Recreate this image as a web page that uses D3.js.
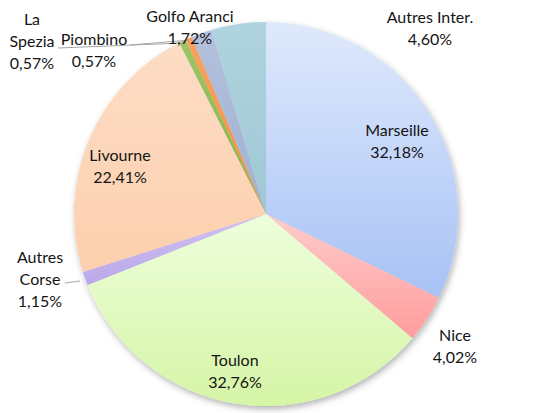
<!DOCTYPE html>
<html>
<head>
<meta charset="utf-8">
<script src="https://cdn.jsdelivr.net/npm/d3@7"></script>
<style>
  body { margin: 0; background: #fff; }
  svg text { font-family: Lato, "Open Sans", sans-serif; font-size: 16px; fill: #141414; }
</style>
</head>
<body>
<svg id="pie" width="546" height="413"></svg>
<script>
// data
const ports = ["Marseille", "Nice", "Toulon", "Autres Corse", "Livourne", "La Spezia", "Piombino", "Golfo Aranci", "Autres Inter."];
const shares = [32.18, 4.02, 32.76, 1.15, 22.41, 0.57, 0.57, 1.72, 4.60];
const labelLines = [
  ["Marseille", "32,18%"],
  ["Nice", "4,02%"],
  ["Toulon", "32,76%"],
  ["Autres", "Corse", "1,15%"],
  ["Livourne", "22,41%"],
  ["La", "Spezia", "0,57%"],
  ["Piombino", "0,57%"],
  ["Golfo Aranci", "1,72%"],
  ["Autres Inter.", "4,60%"]
];
const topColors = ["#dfe9fc", "#ffcccc", "#eefedc", "#d0c2f1", "#fddcc5", "#9cc665", "#f9a25e", "#b4c1dd", "#afd4df"];
const bottomColors = ["#a8c2f5", "#ff9c9c", "#d5f5a6", "#baa7ea", "#fcd0ae", "#85b24c", "#f68f3d", "#a1b0d3", "#9fc7d4"];

// label anchors (x, first baseline)
const labelPos = [[397, 136], [455, 341], [235, 366], [40, 263], [120, 161], [32, 25], [94, 45], [190, 22], [430, 23]];
const lineGap = 22;

const svg = d3.select("#pie");
const cx = 266, cy = 214, radius = 192;

const defs = svg.append("defs");
const shadow = defs.append("filter").attr("id", "shadow")
  .attr("x", "-10%").attr("y", "-10%").attr("width", "125%").attr("height", "125%");
shadow.append("feDropShadow")
  .attr("dx", 1.5).attr("dy", 3).attr("stdDeviation", 3)
  .attr("flood-color", "#000").attr("flood-opacity", 0.3);

ports.forEach((p, i) => {
  const grad = defs.append("linearGradient").attr("id", "grad" + i)
    .attr("x1", 0).attr("y1", 0).attr("x2", 0).attr("y2", 1);
  grad.append("stop").attr("offset", "0%").attr("stop-color", topColors[i]);
  grad.append("stop").attr("offset", "100%").attr("stop-color", bottomColors[i]);
});

const pie = d3.pie().sort(null).value(d => d)(shares);
const arc = d3.arc().innerRadius(0).outerRadius(radius);

const g = svg.append("g").attr("transform", `translate(${cx},${cy})`);

g.append("g").attr("filter", "url(#shadow)")
  .selectAll("path")
  .data(pie)
  .join("path")
  .attr("d", arc)
  .attr("fill", (d, i) => `url(#grad${i})`);

// leader lines for the small slices
const edge = d3.arc().innerRadius(radius - 2).outerRadius(radius - 2);
const leaders = [
  { i: 3, from: [80, 281], to: [65, 283] },
  { i: 5, from: null, to: [58, 48] },
  { i: 6, from: null, to: [130, 45] }
];
leaders.forEach(l => {
  const c = edge.centroid(pie[l.i]);
  const start = l.from ? l.from : [c[0] + cx, c[1] + cy];
  svg.append("line")
    .attr("x1", start[0]).attr("y1", start[1])
    .attr("x2", l.to[0]).attr("y2", l.to[1])
    .attr("stroke", "#a6a6a6").attr("stroke-width", 1);
});

// labels
labelLines.forEach((lines, i) => {
  const t = svg.append("text")
    .attr("text-anchor", "middle")
    .attr("x", labelPos[i][0])
    .attr("y", labelPos[i][1]);
  lines.forEach((s, k) => {
    t.append("tspan")
      .attr("x", labelPos[i][0])
      .attr("dy", k === 0 ? 0 : lineGap)
      .text(s);
  });
});
</script>
</body>
</html>
